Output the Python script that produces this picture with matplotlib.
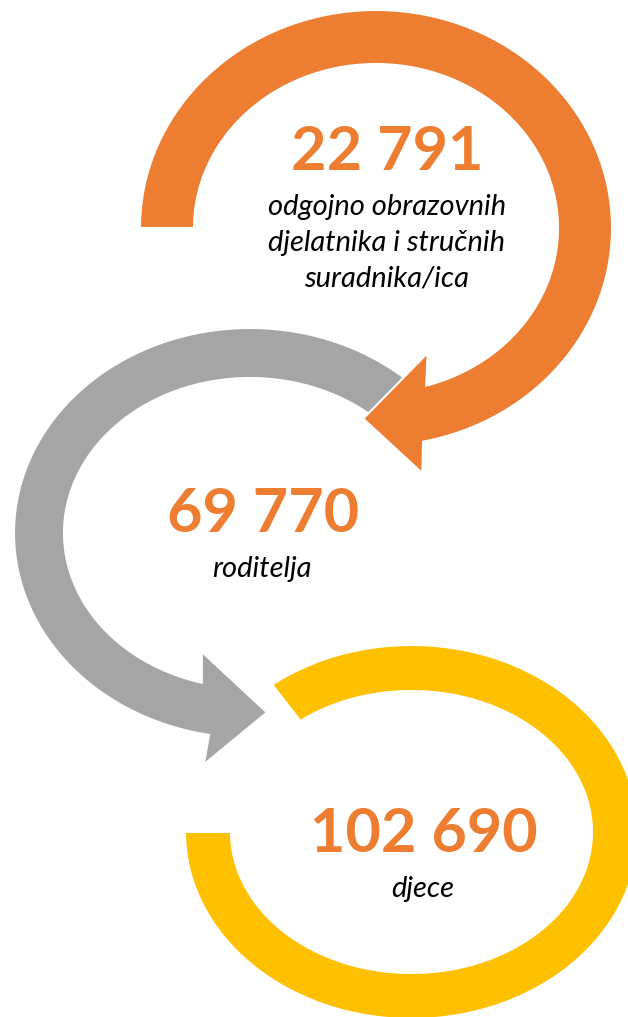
import numpy as np
import matplotlib
matplotlib.use("Agg")
import matplotlib.pyplot as plt
from matplotlib.patches import Polygon

# ---- data ----
values = ["22 791", "69 770", "102 690"]
labels = ["odgojno obrazovnih\ndjelatnika i stručnih\nsuradnika/ica", "roditelja", "djece"]
ring_colors = ["#ED7D31", "#A5A5A5", "#FFC000"]
value_color = "#ED7D31"
label_color = "#000000"

W, H = 628, 1017
fig = plt.figure(figsize=(W / 100, H / 100), dpi=100)
ax = fig.add_axes([0, 0, 1, 1])
ax.set_xlim(0, W)
ax.set_ylim(H, 0)
ax.axis("off")


def pt(cx, cy, rx, ry, t):
    t = np.radians(t)
    return cx + rx * np.cos(t), cy - ry * np.sin(t)


def arc(cx, cy, rx, ry, t0, t1, n=300):
    ts = np.radians(np.linspace(t0, t1, n))
    return np.column_stack([cx + rx * np.cos(ts), cy - ry * np.sin(ts)])


def ring(cx, cy, rx, ry, w, t0, t1_out, t1_in, head=None):
    parts = [arc(cx, cy, rx, ry, t0, t1_out)]
    if head:
        bo, tip, bi, ext = head
        parts.append(np.array([pt(cx, cy, rx + ext, ry + ext, bo)]))
        parts.append(np.array([pt(cx, cy, rx - w / 2, ry - w / 2, tip)]))
        parts.append(np.array([pt(cx, cy, rx - w - ext, ry - w - ext, bi)]))
    parts.append(arc(cx, cy, rx - w, ry - w, t1_in, t0))
    return np.vstack(parts)


# ring geometry (layout)
geoms = [
    dict(cx=376, cy=228, rx=236, ry=218, w=54, t0=180, t1_out=-78.5, t1_in=-74,
         head=(-80, -93.5, -70, 31), z=3),
    dict(cx=250, cy=533, rx=236, ry=205, w=50, t0=49, t1_out=260, t1_in=255,
         head=(260, 274.6, 252, 30), z=2),
    dict(cx=411.5, cy=832, rx=226.5, ry=187, w=46, t0=128, t1_out=-180, t1_in=-180,
         head=None, z=1),
]

for g, col in zip(geoms, ring_colors):
    poly = ring(g["cx"], g["cy"], g["rx"], g["ry"], g["w"], g["t0"], g["t1_out"], g["t1_in"], g["head"])
    ax.add_patch(Polygon(poly, closed=True, facecolor=col, edgecolor="white",
                         linewidth=1.5, zorder=g["z"]))

# text layout
val_pos = [(387, 170), (263, 532), (424, 852)]
lab_pos = [(387, 215), (262, 577), (423, 897)]
line_gap = 36

for v, (x, y) in zip(values, val_pos):
    ax.text(x, y, v, ha="center", va="baseline", fontsize=44, fontweight="bold",
            color=value_color, family="Lato", zorder=5)

for lab, (x, y) in zip(labels, lab_pos):
    for i, line in enumerate(lab.split("\n")):
        ax.text(x, y + i * line_gap, line, ha="center", va="baseline", fontsize=21,
                style="italic", color=label_color, family="Lato", zorder=5)

fig.savefig("out.png", dpi=100, facecolor="white")
